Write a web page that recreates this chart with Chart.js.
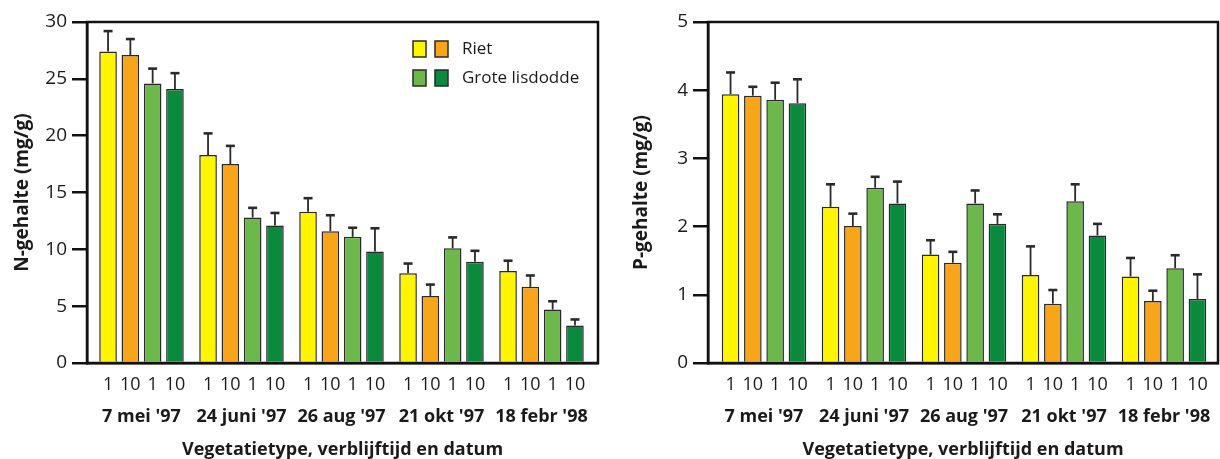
<!DOCTYPE html>
<html>
<head>
<meta charset="utf-8">
<script src="https://cdn.jsdelivr.net/npm/chart.js@4/dist/chart.umd.min.js"></script>
<style>
  html, body { margin: 0; padding: 0; background: #fff; }
  #wrap { position: relative; width: 1220px; height: 459px; overflow: hidden; }
  canvas { position: absolute; top: 0; }
</style>
</head>
<body>
<div id="wrap">
  <canvas id="chartN" width="610" height="459" style="left:0"></canvas>
  <canvas id="chartP" width="610" height="459" style="left:610px"></canvas>
</div>
<script>
// Sampling dates and residence time (days) per bar
const dates = ["7 mei '97", "24 juni '97", "26 aug '97", "21 okt '97", "18 febr '98"];
const residence = ['1', '10', '1', '10'];
const seriesNames = ['Riet, 1', 'Riet, 10', 'Grote lisdodde, 1', 'Grote lisdodde, 10'];

// N content (mg/g) and standard deviations
const nRiet1      = [27.4, 18.3, 13.3, 7.9, 8.1];
const nRiet10     = [27.1, 17.5, 11.6, 5.9, 6.7];
const nLisdodde1  = [24.6, 12.8, 11.1, 10.1, 4.7];
const nLisdodde10 = [24.1, 12.1, 9.8, 8.9, 3.3];
const nRiet1Sd      = [1.8, 1.9, 1.2, 0.85, 0.9];
const nRiet10Sd     = [1.4, 1.6, 1.4, 1.0, 1.0];
const nLisdodde1Sd  = [1.3, 0.85, 0.8, 0.95, 0.73];
const nLisdodde10Sd = [1.4, 1.1, 2.05, 0.97, 0.53];

// P content (mg/g) and standard deviations
const pRiet1      = [3.94, 2.29, 1.59, 1.29, 1.27];
const pRiet10     = [3.92, 2.01, 1.47, 0.87, 0.91];
const pLisdodde1  = [3.86, 2.57, 2.34, 2.37, 1.39];
const pLisdodde10 = [3.81, 2.34, 2.04, 1.87, 0.94];
const pRiet1Sd      = [0.32, 0.33, 0.21, 0.42, 0.27];
const pRiet10Sd     = [0.13, 0.18, 0.16, 0.20, 0.15];
const pLisdodde1Sd  = [0.25, 0.16, 0.19, 0.25, 0.19];
const pLisdodde10Sd = [0.35, 0.32, 0.14, 0.17, 0.36];

const colors = ['#FFF500', '#F9A51A', '#6DB84A', '#0A8A3C'];
const ink = '#1a1a1a';
const FONT = "'Open Sans', 'Noto Sans', sans-serif";

Chart.defaults.font.family = FONT;
Chart.defaults.color = ink;

// Upper error bar with cap above each bar
const errorBars = {
  id: 'errorBars',
  afterDatasetsDraw(chart) {
    const ctx = chart.ctx;
    const y = chart.scales.y;
    ctx.save();
    ctx.strokeStyle = '#2a2a2a';
    chart.data.datasets.forEach((ds, di) => {
      const meta = chart.getDatasetMeta(di);
      meta.data.forEach((bar, i) => {
        const top = y.getPixelForValue(ds.data[i].y + ds.errors[i]);
        ctx.lineWidth = 1.8;
        ctx.beginPath();
        ctx.moveTo(bar.x, bar.y);
        ctx.lineTo(bar.x, top);
        ctx.stroke();
        ctx.lineWidth = 2.6;
        ctx.beginPath();
        ctx.moveTo(bar.x - 4.5, top);
        ctx.lineTo(bar.x + 4.5, top);
        ctx.stroke();
      });
    });
    ctx.restore();
  }
};

// Residence-time label under every bar
const residenceLabels = {
  id: 'residenceLabels',
  afterDatasetsDraw(chart) {
    const ctx = chart.ctx;
    ctx.save();
    ctx.font = '18px ' + FONT;
    ctx.fillStyle = ink;
    ctx.textAlign = 'center';
    ctx.textBaseline = 'middle';
    chart.data.datasets.forEach((ds, di) => {
      chart.getDatasetMeta(di).data.forEach(bar => {
        ctx.fillText(residence[di], bar.x, chart.chartArea.bottom + 22);
      });
    });
    ctx.restore();
  }
};

// Closed frame around the plot area
const frame = {
  id: 'frame',
  afterDatasetsDraw(chart) {
    const {left, top, right, bottom} = chart.chartArea;
    const ctx = chart.ctx;
    ctx.save();
    ctx.strokeStyle = '#111';
    ctx.lineWidth = 2.5;
    ctx.strokeRect(left, top, right - left, bottom - top);
    ctx.restore();
  }
};

// Two-swatch legend (1 and 10 days per plant type)
const pairLegend = {
  id: 'pairLegend',
  afterDraw(chart) {
    const ctx = chart.ctx;
    const rows = [
      {text: 'Riet', fills: [colors[0], colors[1]], y: 49},
      {text: 'Grote lisdodde', fills: [colors[2], colors[3]], y: 78}
    ];
    ctx.save();
    ctx.font = '17px ' + FONT;
    ctx.textBaseline = 'middle';
    rows.forEach(r => {
      r.fills.forEach((f, k) => {
        const x = 413 + k * 22;
        ctx.fillStyle = f;
        ctx.fillRect(x, r.y - 8, 13, 16);
        ctx.strokeStyle = '#2a2a2a';
        ctx.lineWidth = 1.5;
        ctx.strokeRect(x, r.y - 8, 13, 16);
      });
      ctx.fillStyle = ink;
      ctx.fillText(r.text, 462, r.y);
    });
    ctx.restore();
  }
};

function makeChart(id, opts) {
  const datasets = opts.values.map((vals, k) => ({
    label: seriesNames[k],
    data: vals.map((v, i) => ({x: i, y: v})),
    errors: opts.errors[k],
    backgroundColor: colors[k],
    borderColor: '#2a2a2a',
    borderWidth: 1.5,
    categoryPercentage: 0.892,
    barPercentage: 0.79
  }));
  return new Chart(document.getElementById(id), {
    type: 'bar',
    data: {datasets},
    options: {
      responsive: false,
      animation: false,
      devicePixelRatio: 1,
      layout: {padding: {top: 22, right: opts.padRight, bottom: 0, left: 0}},
      plugins: {legend: {display: false}, tooltip: {enabled: false}},
      scales: {
        x: {
          type: 'linear',
          min: opts.xMin,
          max: opts.xMax,
          offset: false,
          grid: {display: false, offset: false},
          border: {display: true, color: '#111', width: 2.5},
          afterBuildTicks(scale) {
            scale.ticks = dates.map((_, i) => ({value: i}));
          },
          afterFit(scale) {
            scale.height = 96;
            scale.paddingLeft = 0;
            scale.paddingRight = 0;
          },
          ticks: {
            autoSkip: false,
            maxRotation: 0,
            padding: 35,
            font: {size: 18, weight: 'bold'},
            color: ink,
            callback: (v, i) => dates[i]
          },
          title: {
            display: true,
            text: 'Vegetatietype, verblijftijd en datum',
            font: {size: 18, weight: 'bold'},
            color: ink,
            padding: {top: 0, bottom: -2}
          }
        },
        y: {
          min: 0,
          max: opts.yMax,
          grid: {display: true, drawOnChartArea: false, drawTicks: true, tickLength: 15, color: '#111', lineWidth: 2.5},
          border: {display: true, color: '#111', width: 2.5},
          afterFit(scale) {
            scale.width = opts.axisWidth;
            scale.paddingTop = 0;
            scale.paddingBottom = 0;
          },
          ticks: {
            stepSize: opts.yStep,
            padding: 5,
            font: {size: 19},
            color: ink
          },
          title: {
            display: true,
            text: opts.yTitle,
            font: {size: 19, weight: 'bold'},
            color: ink,
            padding: {top: opts.titlePad, bottom: 0}
          }
        }
      }
    },
    plugins: [errorBars, residenceLabels, frame].concat(opts.extra || [])
  });
}

makeChart('chartN', {
  values: [nRiet1, nRiet10, nLisdodde1, nLisdodde10],
  errors: [nRiet1Sd, nRiet10Sd, nLisdodde1Sd, nLisdodde10Sd],
  yTitle: 'N-gehalte (mg/g)', yMax: 30, yStep: 5,
  xMin: -0.545, xMax: 4.565,
  axisWidth: 87, titlePad: 11, padRight: 12,
  extra: [pairLegend]
});

makeChart('chartP', {
  values: [pRiet1, pRiet10, pLisdodde1, pLisdodde10],
  errors: [pRiet1Sd, pRiet10Sd, pLisdodde1Sd, pLisdodde10Sd],
  yTitle: 'P-gehalte (mg/g)', yMax: 5, yStep: 1,
  xMin: -0.56, xMax: 4.54,
  axisWidth: 98, titlePad: 20, padRight: 2
});
</script>
</body>
</html>
